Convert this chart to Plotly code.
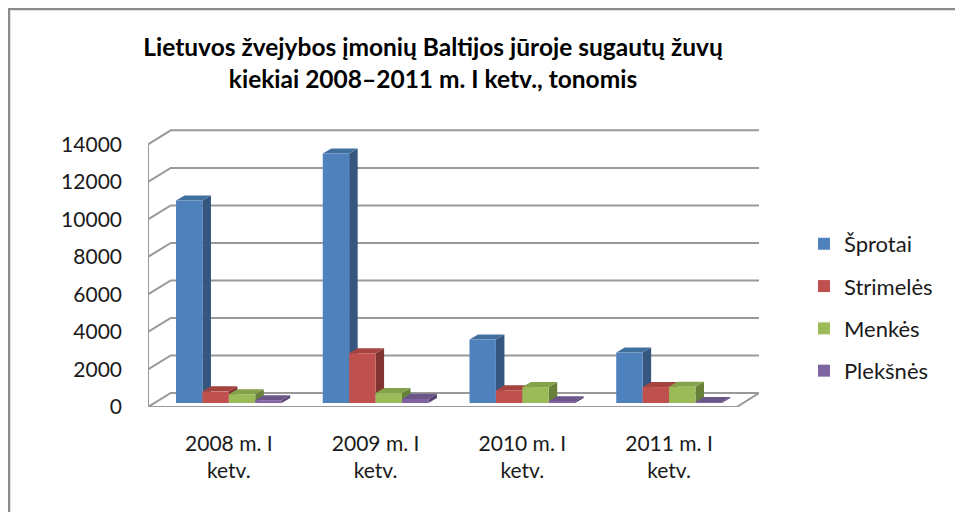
import plotly.graph_objects as go

# ---------------- data ----------------
categories = ["2008 m. I<br>ketv.", "2009 m. I<br>ketv.", "2010 m. I<br>ketv.", "2011 m. I<br>ketv."]
series_names = ["Šprotai", "Strimelės", "Menkės", "Plekšnės"]
sprotai = [10800, 13300, 3380, 2690]
strimeles = [620, 2650, 680, 850]
menkes = [470, 530, 850, 870]
pleksnes = [150, 220, 90, 50]
y_ticks = [0, 2000, 4000, 6000, 8000, 10000, 12000, 14000]
y_tick_labels = ["0", "2000", "4000", "6000", "8000", "10000", "12000", "14000"]

series_values = [sprotai, strimeles, menkes, pleksnes]
front_colors = ["#4F81BD", "#C0504D", "#9BBB59", "#8064A2"]
side_colors = ["#34567F", "#823432", "#67803A", "#56436F"]
top_colors = ["#41709F", "#A5433F", "#84A24B", "#6C5589"]

# ---------------- pseudo-3D geometry (data units) ----------------
X_LEFT, X_RIGHT_FRONT, X_MAX = -0.551, 3.461, 3.613
WALL_DX, WALL_DY = 0.155, 746        # back-wall offset
BAR_BASE = 213                       # bars sit a little behind the floor front edge
BAR_W = 0.18
BAR_DX, BAR_DY = 0.058, 267          # bar depth
Y_MAX = 14819

fig = go.Figure()

# walls & gridlines
gx, gy = [], []
for v in y_ticks:
    gx += [X_LEFT, X_LEFT + WALL_DX, X_MAX, None]
    gy += [v, v + WALL_DY, v + WALL_DY, None]
fig.add_trace(go.Scatter(x=gx, y=gy, mode="lines", line=dict(color="#999999", width=2),
                         showlegend=False, hoverinfo="skip", cliponaxis=False, zorder=0))
fig.add_trace(go.Scatter(x=[X_LEFT, X_LEFT, None, X_LEFT, X_RIGHT_FRONT, X_MAX],
                         y=[0, y_ticks[-1], None, 0, 0, WALL_DY],
                         mode="lines", line=dict(color="#999999", width=2),
                         showlegend=False, hoverinfo="skip", cliponaxis=False, zorder=0))

# side and top faces
for j, vals in enumerate(series_values):
    off = -2 * BAR_W + j * BAR_W
    sx, sy, tx, ty = [], [], [], []
    for i, v in enumerate(vals):
        xl = i + off
        xr = xl + BAR_W
        top = BAR_BASE + v
        sx += [xr, xr + BAR_DX, xr + BAR_DX, xr, xr, None]
        sy += [BAR_BASE, BAR_BASE + BAR_DY, top + BAR_DY, top, BAR_BASE, None]
        tx += [xl, xl + BAR_DX, xr + BAR_DX, xr, xl, None]
        ty += [top, top + BAR_DY, top + BAR_DY, top, top, None]
    fig.add_trace(go.Scatter(x=sx, y=sy, fill="toself", fillcolor=side_colors[j], mode="lines",
                             line=dict(width=0, color=side_colors[j]), showlegend=False,
                             hoverinfo="skip", zorder=1))
    fig.add_trace(go.Scatter(x=tx, y=ty, fill="toself", fillcolor=top_colors[j], mode="lines",
                             line=dict(width=0, color=top_colors[j]), showlegend=False,
                             hoverinfo="skip", zorder=1))

# front faces (real bars)
for j, (name, vals) in enumerate(zip(series_names, series_values)):
    fig.add_trace(go.Bar(
        x=list(range(len(categories))), y=vals, base=BAR_BASE, name=name,
        width=BAR_W, offset=-2 * BAR_W + j * BAR_W,
        marker=dict(color=front_colors[j], line=dict(width=0)),
        legendgroup=name, zorder=2,
    ))

font_family = "Lato, 'Open Sans', sans-serif"
fig.update_layout(
    width=955, height=504,
    margin=dict(l=140, r=204, t=121, b=105),
    paper_bgcolor="white", plot_bgcolor="white",
    barmode="overlay",
    font=dict(family=font_family, size=21, color="#1a1a1a"),
    title=dict(
        text="Lietuvos žvejybos įmonių Baltijos jūroje sugautų žuvų<br>kiekiai 2008–2011 m. I ketv., tonomis",
        x=425 / 955, xref="container", xanchor="center", y=0.905, yref="container", yanchor="middle",
        font=dict(family=font_family, size=24.5, color="#000000", weight="bold"),
    ),
    xaxis=dict(range=[X_LEFT, X_MAX], tickvals=list(range(len(categories))), ticktext=categories,
               showgrid=False, zeroline=False, showline=False, ticks="", ticklabelstandoff=22,
               tickfont=dict(size=21), fixedrange=True),
    yaxis=dict(range=[0, Y_MAX], tickvals=y_ticks, ticktext=y_tick_labels, showgrid=False,
               zeroline=False, showline=False, ticks="", ticklabelstandoff=25,
               tickfont=dict(size=21), fixedrange=True),
    legend=dict(x=1.0736, xanchor="left", y=0.662, yanchor="top", traceorder="grouped",
                tracegroupgap=10.7, font=dict(size=22), bgcolor="rgba(0,0,0,0)"),
    showlegend=True,
    shapes=[
        dict(type="path", xref="paper", yref="paper",
             path="M -0.2275 -0.40 L -0.2275 1.4317 L 1.334 1.4317",
             line=dict(color="#8a8a8a", width=2.5)),
    ],
)

fig.write_html("out.html")
